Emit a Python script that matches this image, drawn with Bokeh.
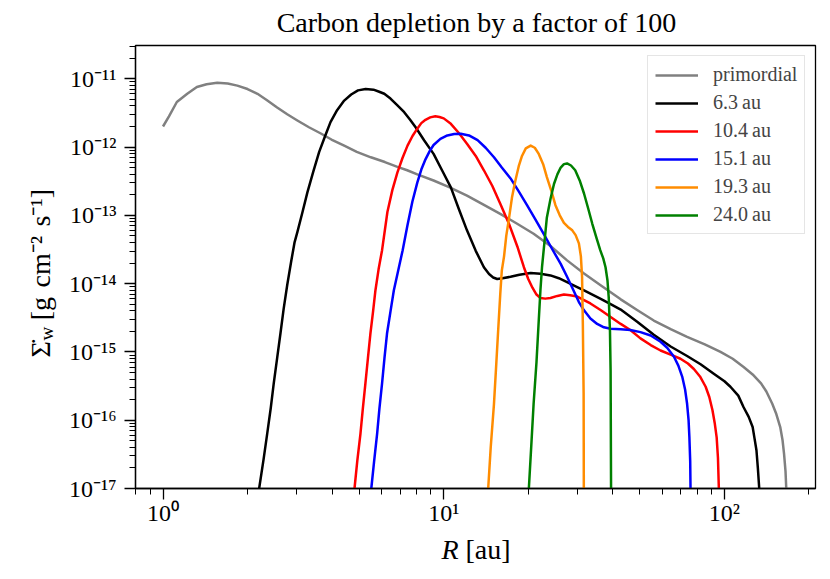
import math
from bokeh.plotting import figure
from bokeh.models import (ColumnDataSource, Range1d, FixedTicker, CustomJSTickFormatter,
                          Legend, LegendItem, Label)
from bokeh.embed import file_html
from bokeh.resources import INLINE

# ---------------- data ----------------
r_prim = [1.00, 1.05, 1.12, 1.22, 1.32, 1.43, 1.56, 1.70, 1.84, 2.00, 2.17, 2.34, 2.55, 2.77,
          3.01, 3.31, 3.65, 3.98, 4.42, 4.90, 5.50, 6.17, 6.84, 7.41, 8.05, 9.20, 10.5, 12.1,
          13.8, 15.9, 18.2, 20.9, 24.0, 27.5, 31.6, 36.1, 42.7, 49.0, 56.0, 64.6, 73.6, 85.1,
          96.8, 107, 117, 126, 135, 141, 148, 153, 158, 161, 163, 165, 166, 167.5]
s_prim = [2.00e-12, 2.82e-12, 4.57e-12, 6.03e-12, 7.59e-12, 8.32e-12, 8.71e-12, 8.51e-12,
          7.94e-12, 7.08e-12, 6.03e-12, 4.90e-12, 3.80e-12, 3.02e-12, 2.45e-12, 1.95e-12,
          1.58e-12, 1.29e-12, 1.05e-12, 8.51e-13, 7.08e-13, 6.03e-13, 5.13e-13, 4.57e-13,
          3.98e-13, 3.24e-13, 2.57e-13, 1.95e-13, 1.45e-13, 1.05e-13, 7.59e-14, 5.37e-14,
          3.55e-14, 2.19e-14, 1.41e-14, 9.55e-15, 5.89e-15, 4.07e-15, 2.88e-15, 2.14e-15,
          1.66e-15, 1.29e-15, 1.00e-15, 7.94e-16, 6.03e-16, 4.68e-16, 3.47e-16, 2.63e-16,
          1.74e-16, 1.23e-16, 7.94e-17, 5.13e-17, 3.24e-17, 1.78e-17, 1.0e-17, 1.0e-18]

r_63 = [2.03, 2.20, 2.28, 2.35, 2.42, 2.48, 2.55, 2.62, 2.69, 2.77, 2.86, 2.94, 3.01, 3.14,
        3.27, 3.43, 3.60, 3.78, 3.95, 4.17, 4.42, 4.68, 4.95, 5.27, 5.62, 5.89, 6.14, 6.46,
        6.84, 7.23, 7.59, 7.94, 8.51, 9.20, 9.86, 10.6, 11.3, 12.1, 13.0, 13.9, 14.5, 15.0,
        15.5, 16.2, 17.3, 18.6, 20.4, 22.1, 24.0, 25.7, 27.5, 29.5, 31.6, 36.1, 39.3, 42.7,
        49.0, 56.0, 64.3, 73.6, 82.2, 91.6, 100, 105, 112, 117, 122, 126, 128, 130, 131.5,
        133, 134]
s_63 = [1.0e-18, 1.0e-17, 2.63e-17, 6.31e-17, 1.51e-16, 3.47e-16, 8.13e-16, 1.86e-15,
        4.27e-15, 9.55e-15, 2.09e-14, 3.98e-14, 5.69e-14, 1.12e-13, 2.19e-13, 4.37e-13,
        8.51e-13, 1.45e-12, 2.32e-12, 3.47e-12, 4.79e-12, 5.89e-12, 6.76e-12, 7.08e-12,
        6.92e-12, 6.46e-12, 6.03e-12, 5.13e-12, 4.07e-12, 3.24e-12, 2.51e-12, 1.95e-12,
        1.26e-12, 7.94e-13, 4.57e-13, 2.57e-13, 1.26e-13, 6.03e-14, 3.02e-14, 1.74e-14,
        1.38e-14, 1.23e-14, 1.17e-14, 1.20e-14, 1.26e-14, 1.35e-14, 1.43e-14, 1.40e-14,
        1.32e-14, 1.20e-14, 1.05e-14, 9.12e-15, 7.94e-15, 6.03e-15, 5.01e-15, 4.17e-15,
        2.75e-15, 1.78e-15, 1.20e-15, 8.71e-16, 6.61e-16, 4.79e-16, 3.72e-16, 3.09e-16,
        2.29e-16, 1.55e-16, 1.12e-16, 7.94e-17, 5.37e-17, 3.63e-17, 2.0e-17, 1.0e-17, 1.0e-18]

r_104 = [4.65, 4.81, 4.92, 5.05, 5.15, 5.26, 5.37, 5.48, 5.60, 5.71, 5.86, 6.03, 6.30, 6.56,
         6.84, 7.13, 7.43, 7.74, 8.05, 8.32, 8.61, 8.95, 9.33, 9.66, 10.0, 10.6, 11.3, 12.1,
         13.0, 13.9, 14.9, 15.9, 17.1, 18.3, 19.3, 20.0, 20.7, 21.4, 22.1, 23.0, 24.0, 25.4,
         26.8, 28.2, 29.9, 31.6, 33.3, 36.3, 39.3, 42.7, 46.2, 50.2, 54.6, 59.2, 64.3, 69.7,
         74.1, 77.8, 81.8, 85.7, 88.3, 90.6, 92.3, 93.8, 94.8, 95.5, 96.2]
s_104 = [1.0e-18, 1.0e-17, 2.51e-17, 6.31e-17, 1.48e-16, 3.47e-16, 8.13e-16, 1.86e-15,
         3.89e-15, 7.94e-15, 1.62e-14, 3.09e-14, 1.12e-13, 2.34e-13, 4.27e-13, 6.92e-13,
         1.05e-12, 1.45e-12, 1.86e-12, 2.24e-12, 2.51e-12, 2.72e-12, 2.82e-12, 2.75e-12,
         2.63e-12, 2.19e-12, 1.62e-12, 1.12e-12, 7.41e-13, 4.57e-13, 2.69e-13, 1.48e-13,
         7.41e-14, 3.47e-14, 1.74e-14, 1.17e-14, 8.71e-15, 6.92e-15, 6.17e-15, 6.03e-15,
         6.17e-15, 6.61e-15, 6.92e-15, 6.76e-15, 6.46e-15, 5.75e-15, 5.13e-15, 4.07e-15,
         3.24e-15, 2.57e-15, 2.09e-15, 1.58e-15, 1.26e-15, 1.05e-15, 9.12e-16, 7.94e-16,
         6.76e-16, 5.62e-16, 4.37e-16, 3.09e-16, 2.19e-16, 1.41e-16, 9.12e-17, 5.62e-17,
         2.82e-17, 1.0e-17, 1.0e-18]

r_151 = [5.35, 5.52, 5.65, 5.79, 5.90, 6.03, 6.15, 6.28, 6.46, 6.64, 6.89, 7.14, 7.43, 7.73,
         8.05, 8.32, 8.61, 8.91, 9.20, 9.73, 10.3, 10.9, 11.5, 12.3, 13.2, 14.1, 15.1, 16.1,
         17.3, 18.5, 19.8, 21.2, 22.7, 24.3, 26.1, 27.5, 29.0, 30.3, 31.6, 33.3, 35.2, 37.2,
         39.3, 42.7, 46.2, 50.2, 54.6, 59.2, 62.5, 66.1, 68.5, 70.8, 72.4, 73.6, 74.5, 75.0,
         75.5, 75.7, 76.0]
s_151 = [1.0e-18, 1.0e-17, 2.51e-17, 6.31e-17, 1.48e-16, 3.47e-16, 8.13e-16, 1.86e-15,
         3.89e-15, 7.94e-15, 1.58e-14, 3.09e-14, 7.24e-14, 1.58e-13, 3.02e-13, 4.68e-13,
         6.61e-13, 8.71e-13, 1.07e-12, 1.32e-12, 1.48e-12, 1.55e-12, 1.57e-12, 1.48e-12,
         1.26e-12, 9.77e-13, 7.08e-13, 5.01e-13, 3.47e-13, 2.24e-13, 1.41e-13, 8.71e-14,
         5.37e-14, 3.24e-14, 1.95e-14, 1.26e-14, 7.94e-15, 5.37e-15, 4.07e-15, 3.09e-15,
         2.57e-15, 2.29e-15, 2.19e-15, 2.14e-15, 2.09e-15, 1.95e-15, 1.74e-15, 1.41e-15,
         1.15e-15, 8.51e-16, 6.31e-16, 4.27e-16, 2.82e-16, 1.74e-16, 1.0e-16, 5.62e-17,
         2.51e-17, 1.0e-17, 1.0e-18]

r_193 = [14.1, 14.4, 14.7, 15.1, 15.4, 15.7, 15.9, 16.1, 16.4, 16.7, 17.1, 17.5, 18.0, 18.5,
         19.0, 19.6, 20.4, 21.1, 21.8, 22.6, 23.3, 24.2, 25.0, 25.9, 26.8, 27.7, 28.7, 29.5,
         30.3, 30.8, 31.1, 31.3, 31.5, 31.55, 31.6]
s_193 = [1.0e-18, 1.0e-17, 3.98e-17, 1.74e-16, 7.08e-16, 2.88e-15, 7.08e-15, 1.55e-14,
         2.51e-14, 5.01e-14, 9.33e-14, 1.82e-13, 3.24e-13, 5.25e-13, 7.41e-13, 9.55e-13,
         1.05e-12, 9.77e-13, 7.94e-13, 5.62e-13, 3.63e-13, 2.24e-13, 1.41e-13, 1.0e-13,
         7.76e-14, 6.76e-14, 6.03e-14, 5.13e-14, 3.89e-14, 2.51e-14, 1.26e-14, 2.51e-15,
         2.51e-16, 1.0e-17, 1.0e-18]

r_240 = [19.7, 20.1, 20.5, 20.9, 21.4, 21.8, 22.1, 22.4, 22.9, 23.3, 24.0, 24.7, 25.4, 26.1,
         26.8, 27.5, 28.4, 29.4, 30.5, 31.6, 32.7, 33.8, 35.0, 36.1, 37.0, 37.7, 38.3, 38.7,
         39.1, 39.3, 39.45, 39.6]
s_240 = [1.0e-18, 1.0e-17, 4.17e-17, 1.74e-16, 7.08e-16, 2.88e-15, 7.94e-15, 1.78e-14,
         4.47e-14, 9.33e-14, 1.74e-13, 2.88e-13, 3.98e-13, 5.01e-13, 5.62e-13, 5.75e-13,
         5.37e-13, 4.57e-13, 3.24e-13, 2.09e-13, 1.26e-13, 7.59e-14, 4.68e-14, 3.09e-14,
         2.34e-14, 1.74e-14, 1.12e-14, 6.31e-15, 2.0e-15, 5.37e-16, 1.0e-17, 1.0e-18]

series_labels = ["primordial", "6.3\u2009au", "10.4\u2009au", "15.1\u2009au", "19.3\u2009au", "24.0\u2009au"]
series_colors = ["#808080", "#000000", "#ff0000", "#0000ff", "#ff8c00", "#008000"]

x_major = [1, 10, 100]
y_major = [1e-17, 1e-16, 1e-15, 1e-14, 1e-13, 1e-12, 1e-11]

title_text = "Carbon depletion by a factor of 100"

FONT = "Liberation Serif"

p = figure(width=830, height=579, x_axis_type="log", y_axis_type="log",
           x_range=Range1d(0.798, 211), y_range=Range1d(1e-17, 3.07e-11),
           output_backend="svg", toolbar_location=None, title=None,
           min_border_left=135, min_border_right=15, min_border_top=45, min_border_bottom=91)
p.xgrid.visible = False
p.ygrid.visible = False
p.outline_line_color = "black"
p.outline_line_width = 1.3
p.outline_line_alpha = 1.0
p.background_fill_color = "white"
p.border_fill_color = "white"

all_r = [r_prim, r_63, r_104, r_151, r_193, r_240]
all_s = [s_prim, s_63, s_104, s_151, s_193, s_240]
items = []
for r, s, lab, col in zip(all_r, all_s, series_labels, series_colors):
    src = ColumnDataSource(dict(x=r, y=s))
    gl = p.line("x", "y", source=src, line_color=col, line_width=2.5, line_join="round")
    items.append(LegendItem(label=lab, renderers=[gl]))

sup_code = """
const sup = {"-": "\u207b", "0": "\u2070", "1": "\u00b9", "2": "\u00b2", "3": "\u00b3",
             "4": "\u2074", "5": "\u2075", "6": "\u2076", "7": "\u2077", "8": "\u2078", "9": "\u2079"};
const e = Math.round(Math.log10(tick));
return "10" + String(e).split("").map(c => sup[c]).join("");
"""

x_minor = [m * 10.0 ** e for e in range(-1, 3) for m in range(2, 10)]
y_minor = [m * 10.0 ** e for e in range(-17, -10) for m in range(2, 10)]

for ax, major, minor, standoff in ((p.xaxis[0], x_major, x_minor, 0), (p.yaxis[0], y_major, y_minor, 8)):
    ax.ticker = FixedTicker(ticks=major, minor_ticks=minor)
    ax.formatter = CustomJSTickFormatter(code=sup_code)
    ax.axis_line_width = 1.3
    ax.major_tick_line_width = 1.3
    ax.minor_tick_line_width = 1.0
    ax.major_tick_in = 0
    ax.major_tick_out = 11
    ax.minor_tick_in = 0
    ax.minor_tick_out = 6
    ax.major_label_text_font = FONT
    ax.major_label_text_font_size = "24px"
    ax.major_label_text_color = "black"
    ax.major_label_standoff = standoff

legend = Legend(items=items, location=(512, 254), margin=0, padding=7, spacing=5,
                glyph_width=43, glyph_height=20, label_height=20, label_standoff=15,
                label_text_font=FONT, label_text_font_size="20px",
                border_line_color="#cccccc", border_line_width=1,
                background_fill_color="white", background_fill_alpha=0.8)
p.add_layout(legend)

# title and axis labels, positioned in canvas pixels (side panels are used only as hosts)
def lab(place, **kw):
    base = dict(x_units="canvas", y_units="canvas", text_font=FONT, text_color="black")
    base.update(kw)
    p.add_layout(Label(**base), place)

lab("above", x=476, y=22, text=title_text, text_font_size="28px",
    text_align="center", text_baseline="middle")
lab("left", x=441, y=549, text="R", text_font_size="28px", text_font_style="italic",
    text_align="left", text_baseline="middle")
lab("below", x=465, y=549, text="[au]", text_font_size="28px",
    text_align="left", text_baseline="middle")
lab("left", x=40, y=357,
    text="\u03a3\u0307\u2002\u00a0[g\u00a0\u200acm\u207b\u00b2\u00a0\u200as\u207b\u00b9]",
    text_font_size="28px", angle=math.pi / 2, text_align="left", text_baseline="alphabetic")
lab("below", x=46, y=340, text="w", text_font_size="19px", angle=math.pi / 2,
    text_align="left", text_baseline="alphabetic")

open("out.html", "w").write(file_html(p, INLINE))
